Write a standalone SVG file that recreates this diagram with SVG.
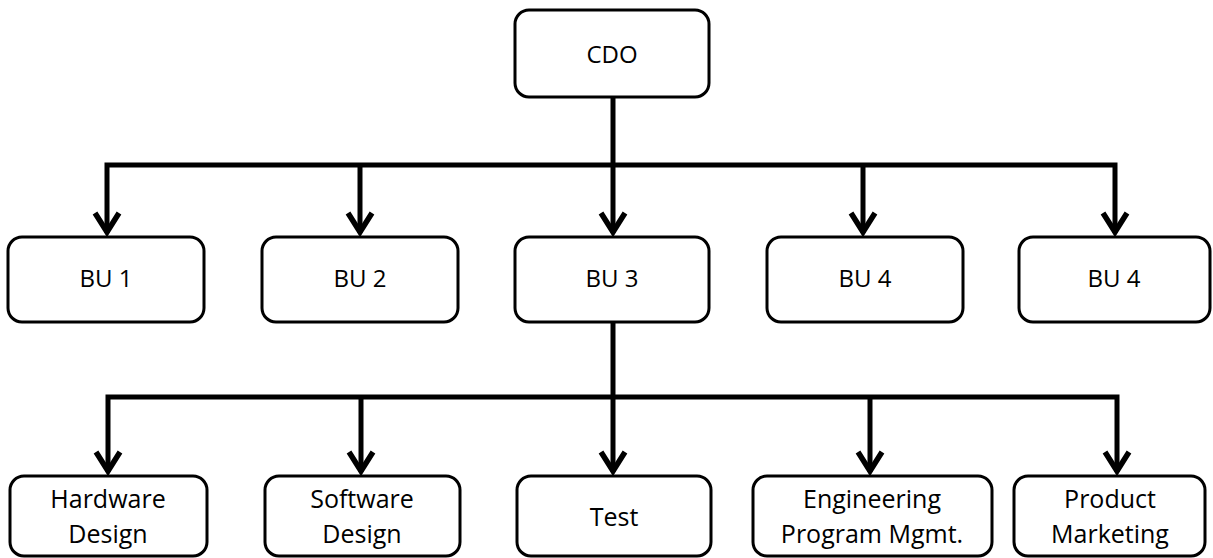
<svg xmlns="http://www.w3.org/2000/svg" width="1213" height="558" viewBox="0 0 1213 558">
  <style>
    .box { fill: #ffffff; stroke: #000000; stroke-width: 3; }
    .lbl { font-family: "Open Sans", "Liberation Sans", sans-serif; font-size: 24px; fill: #000000; text-anchor: middle; }
    .sm { font-size: 25px; }
    .wire { fill: none; stroke: #000000; stroke-width: 5; stroke-linejoin: miter; }
    .head { fill: none; stroke: #000000; stroke-width: 5.5; stroke-linejoin: miter; }
  </style>
  <rect width="1213" height="558" fill="#ffffff"/>

  <g id="connectors">
    <path class="wire" d="M613,97 V165"/>
    <path class="wire" d="M107,233 V165 H1115 V233"/>
    <path class="wire" d="M360,165 V233"/>
    <path class="wire" d="M613,165 V233"/>
    <path class="wire" d="M863,165 V233"/>
    <path class="wire" d="M613,322 V397"/>
    <path class="wire" d="M108,472 V397 H1117 V472"/>
    <path class="wire" d="M361,397 V472"/>
    <path class="wire" d="M613,397 V472"/>
    <path class="wire" d="M870,397 V472"/>
    <!-- chevron arrowheads -->
    <path class="head" d="M95,213 L107,232 L119,213"/>
    <path class="head" d="M348,213 L360,232 L372,213"/>
    <path class="head" d="M601,213 L613,232 L625,213"/>
    <path class="head" d="M851,213 L863,232 L875,213"/>
    <path class="head" d="M1103,213 L1115,232 L1127,213"/>
    <path class="head" d="M96,452 L108,471 L120,452"/>
    <path class="head" d="M349,452 L361,471 L373,452"/>
    <path class="head" d="M601,452 L613,471 L625,452"/>
    <path class="head" d="M858,452 L870,471 L882,452"/>
    <path class="head" d="M1105,452 L1117,471 L1129,452"/>
  </g>

  <g id="cdo">
    <rect class="box" x="515" y="10" width="194" height="87" rx="14"/>
    <text class="lbl" x="612" y="63">CDO</text>
  </g>

  <g id="bu1">
    <rect class="box" x="8" y="237" width="196" height="85" rx="14"/>
    <text class="lbl" x="106" y="287">BU 1</text>
  </g>
  <g id="bu2">
    <rect class="box" x="262" y="237" width="196" height="85" rx="14"/>
    <text class="lbl" x="360" y="287">BU 2</text>
  </g>
  <g id="bu3">
    <rect class="box" x="515" y="237" width="194" height="85" rx="14"/>
    <text class="lbl" x="612" y="287">BU 3</text>
  </g>
  <g id="bu4">
    <rect class="box" x="767" y="237" width="196" height="85" rx="14"/>
    <text class="lbl" x="865" y="287">BU 4</text>
  </g>
  <g id="bu4b">
    <rect class="box" x="1019" y="237" width="191" height="85" rx="14"/>
    <text class="lbl" x="1114" y="287">BU 4</text>
  </g>

  <g id="hardware">
    <rect class="box" x="10" y="476" width="197" height="80" rx="14"/>
    <text class="lbl sm" x="108" y="508">Hardware</text>
    <text class="lbl sm" x="108" y="543">Design</text>
  </g>
  <g id="software">
    <rect class="box" x="265" y="476" width="195" height="80" rx="14"/>
    <text class="lbl sm" x="362" y="508">Software</text>
    <text class="lbl sm" x="362" y="543">Design</text>
  </g>
  <g id="test">
    <rect class="box" x="517" y="476" width="194" height="80" rx="14"/>
    <text class="lbl sm" x="614" y="526">Test</text>
  </g>
  <g id="epm">
    <rect class="box" x="753" y="476" width="239" height="80" rx="14"/>
    <text class="lbl sm" x="872" y="508">Engineering</text>
    <text class="lbl sm" x="872" y="543">Program Mgmt.</text>
  </g>
  <g id="marketing">
    <rect class="box" x="1014" y="476" width="191" height="80" rx="14"/>
    <text class="lbl sm" x="1110" y="508">Product</text>
    <text class="lbl sm" x="1110" y="543">Marketing</text>
  </g>
</svg>
